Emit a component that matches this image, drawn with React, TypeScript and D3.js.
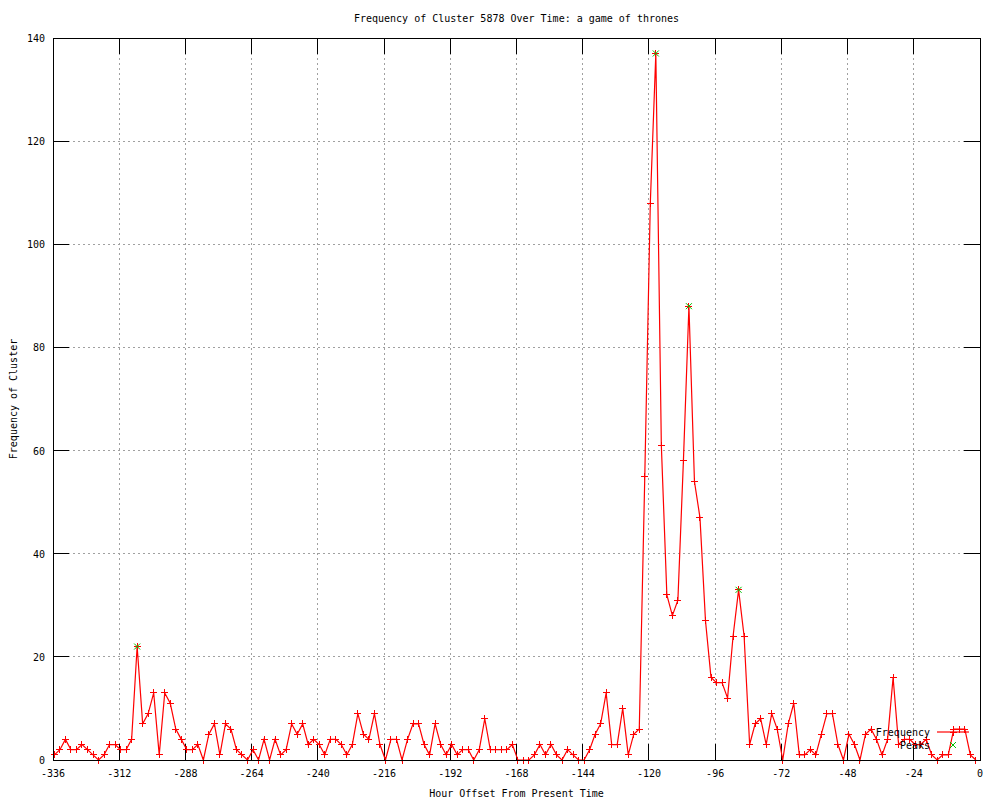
import React from 'react';
import * as d3 from 'd3';

const width = 1000;
const height = 800;
const margin = { top: 38, right: 20, bottom: 40, left: 53 };

// hour offsets, one sample every 2 hours (they sit half an hour past the even hour)
const hours = d3.range(-335.5, 0, 2);

const frequency = [
    1, 2, 4, 2, 2, 3, 2, 1, 0, 1, 3, 3, 2, 2, 4, 22, 7, 9, 13, 1,
    13, 11, 6, 4, 2, 2, 3, 0, 5, 7, 1, 7, 6, 2, 1, 0, 2, 0, 4, 0,
    4, 1, 2, 7, 5, 7, 3, 4, 3, 1, 4, 4, 3, 1, 3, 9, 5, 4, 9, 3,
    0, 4, 4, 0, 4, 7, 7, 3, 1, 7, 3, 1, 3, 1, 2, 2, 0, 2, 8, 2,
    2, 2, 2, 3, 0, 0, 0, 1, 3, 1, 3, 1, 0, 2, 1, 0, 0, 2, 5, 7,
    13, 3, 3, 10, 1, 5, 6, 55, 108, 137, 61, 32, 28, 31, 58, 88, 54, 47, 27, 16,
    15, 15, 12, 24, 33, 24, 3, 7, 8, 3, 9, 6, 0, 7, 11, 1, 1, 2, 1, 5,
    9, 9, 3, 0, 5, 3, 0, 5, 6, 4, 1, 4, 16, 3, 4, 4, 3, 3, 4, 1,
    0, 1, 1, 6, 6, 6, 1, 0,
];

const peakHours = [-305.5, -117.5, -105.5, -87.5];
const peakValues = [22, 137, 88, 33];

const xTicks = [-336, -312, -288, -264, -240, -216, -192, -168, -144, -120, -96, -72, -48, -24, 0];
const yTicks = [0, 20, 40, 60, 80, 100, 120, 140];

const title = 'Frequency of Cluster 5878 Over Time: a game of thrones';
const xLabel = 'Hour Offset From Present Time';
const yLabel = 'Frequency of Cluster';

const font = '"DejaVu Sans Mono", monospace';
const red = '#ff0000';
const green = '#00c000';

const plus = (x: number, y: number, s = 3.5) => `M${x - s},${y}H${x + s}M${x},${y - s}V${y + s}`;
const cross = (x: number, y: number, s = 3) => `M${x - s},${y - s}L${x + s},${y + s}M${x - s},${y + s}L${x + s},${y - s}`;

export default function App() {
    const xScale = d3.scaleLinear().domain([-336, 0]).range([margin.left, width - margin.right]);
    const yScale = d3.scaleLinear().domain([0, 140]).range([height - margin.bottom, margin.top]);

    const points = hours.map((h, i) => ({ x: xScale(h), y: yScale(frequency[i]) }));
    const line = d3.line<{ x: number; y: number }>().x(d => d.x).y(d => d.y);

    const left = margin.left;
    const right = width - margin.right;
    const top = margin.top;
    const bottom = height - margin.bottom;
    const tick = 16;

    // legend, sits over the bottom right corner like gnuplot does
    const legendX = 930;
    const legendY = [732, 745];

    return (
        <svg width={width} height={height} style={{ position: 'absolute', left: 0, top: 0, background: '#fff' }}
            fontFamily={font} fontSize={10}>
            <rect width={width} height={height} fill="#fff" />

            {/* grid */}
            <g stroke="#a0a0a0" strokeDasharray="2,3" shapeRendering="crispEdges">
                {xTicks.slice(1, -1).map(t => (
                    <line key={'gx' + t} x1={xScale(t)} x2={xScale(t)} y1={top} y2={bottom} />
                ))}
                {yTicks.slice(1, -1).map(t => (
                    <line key={'gy' + t} x1={left} x2={right} y1={yScale(t)} y2={yScale(t)} />
                ))}
            </g>

            {/* ticks, mirrored on all four sides */}
            <g stroke="#000" shapeRendering="crispEdges">
                {xTicks.map(t => (
                    <g key={'tx' + t}>
                        <line x1={xScale(t)} x2={xScale(t)} y1={bottom} y2={bottom - tick} />
                        <line x1={xScale(t)} x2={xScale(t)} y1={top} y2={top + tick} />
                    </g>
                ))}
                {yTicks.map(t => (
                    <g key={'ty' + t}>
                        <line x1={left} x2={left + tick} y1={yScale(t)} y2={yScale(t)} />
                        <line x1={right} x2={right - tick} y1={yScale(t)} y2={yScale(t)} />
                    </g>
                ))}
            </g>

            {/* tick labels */}
            <g fill="#000">
                {xTicks.map(t => (
                    <text key={'lx' + t} x={xScale(t)} y={bottom + 17} textAnchor="middle">{t}</text>
                ))}
                {yTicks.map(t => (
                    <text key={'ly' + t} x={left - 8} y={yScale(t) + 4} textAnchor="end">{t}</text>
                ))}
            </g>

            {/* frequency series */}
            <path d={line(points) || ''} fill="none" stroke={red} strokeWidth={1.2} />
            <path d={points.map(p => plus(p.x, p.y)).join('')} fill="none" stroke={red} strokeWidth={1} shapeRendering="crispEdges" />

            {/* peaks */}
            <path d={peakHours.map((h, i) => cross(xScale(h), yScale(peakValues[i]))).join('')}
                fill="none" stroke={green} strokeWidth={1} />

            {/* legend */}
            <text x={legendX} y={legendY[0] + 4} textAnchor="end">Frequency</text>
            <line x1={937} x2={969} y1={legendY[0]} y2={legendY[0]} stroke={red} strokeWidth={1.2} />
            <path d={plus(953, legendY[0])} stroke={red} fill="none" shapeRendering="crispEdges" />
            <text x={legendX} y={legendY[1] + 4} textAnchor="end">Peaks</text>
            <path d={cross(953, legendY[1])} stroke={green} fill="none" />

            {/* border */}
            <rect x={left} y={top} width={right - left} height={bottom - top} fill="none" stroke="#000" shapeRendering="crispEdges" />

            {/* titles */}
            <text x={(left + right) / 2} y={22} textAnchor="middle">{title}</text>
            <text x={(left + right) / 2} y={797} textAnchor="middle">{xLabel}</text>
            <text transform={`translate(17, ${(top + bottom) / 2}) rotate(-90)`} textAnchor="middle">{yLabel}</text>
        </svg>
    );
}
